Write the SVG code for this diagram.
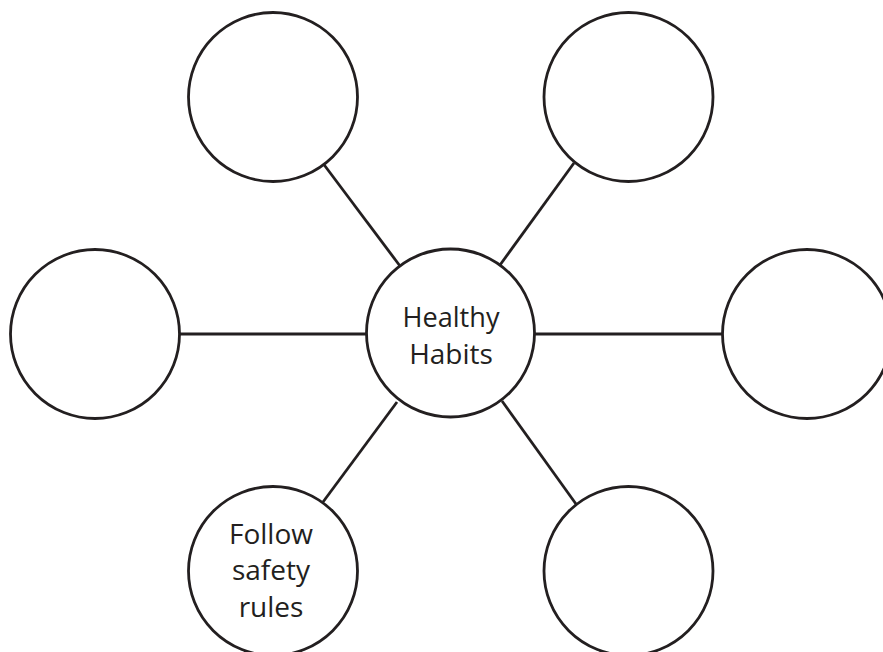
<svg xmlns="http://www.w3.org/2000/svg" width="883" height="652" viewBox="0 0 883 652">
  <style>
    .node { fill: #ffffff; stroke: #231f20; stroke-width: 2.8; }
    .link { stroke: #231f20; stroke-width: 2.8; fill: none; }
    .label { font-family: "Open Sans", "Noto Sans", "Liberation Sans", sans-serif; font-size: 28px; font-weight: 500; fill: #231f20; text-anchor: middle; }
  </style>
  <rect width="883" height="652" fill="#ffffff"/>
  <g id="connectors">
    <line class="link" x1="179" y1="334" x2="366" y2="334"/>
    <line class="link" x1="535" y1="334" x2="723" y2="334"/>
    <line class="link" x1="323.5" y1="164" x2="400" y2="266"/>
    <line class="link" x1="574" y1="163" x2="500" y2="265"/>
    <line class="link" x1="397" y1="402" x2="323" y2="502"/>
    <line class="link" x1="502" y1="401" x2="576" y2="504"/>
  </g>
  <g id="center">
    <circle class="node" cx="450.5" cy="333" r="84"/>
    <text class="label" x="451" y="327" textLength="97" lengthAdjust="spacingAndGlyphs">Healthy</text>
    <text class="label" x="451" y="364">Habits</text>
  </g>
  <g id="top-left">
    <circle class="node" cx="273" cy="97" r="84.5"/>
  </g>
  <g id="top-right">
    <circle class="node" cx="628.5" cy="97" r="84.5"/>
  </g>
  <g id="left">
    <circle class="node" cx="95" cy="334" r="84.5"/>
  </g>
  <g id="right">
    <circle class="node" cx="807" cy="334" r="84.5"/>
  </g>
  <g id="bottom-left">
    <circle class="node" cx="273" cy="571" r="84.5"/>
    <text class="label" x="271" y="544">Follow</text>
    <text class="label" x="271" y="580">safety</text>
    <text class="label" x="271" y="617">rules</text>
  </g>
  <g id="bottom-right">
    <circle class="node" cx="628.5" cy="571" r="84.5"/>
  </g>
</svg>
